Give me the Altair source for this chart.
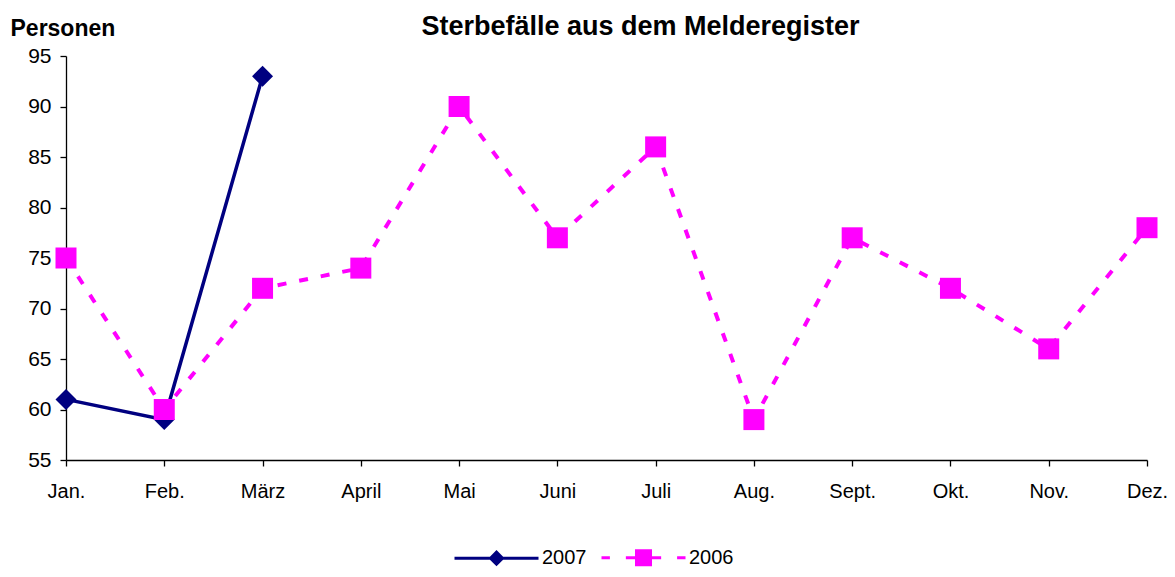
import altair as alt
import pandas as pd

months = ["Jan.", "Feb.", "März", "April", "Mai", "Juni", "Juli", "Aug.", "Sept.", "Okt.", "Nov.", "Dez."]
values_2006 = [75, 60, 72, 74, 90, 77, 86, 59, 77, 72, 66, 78]
months_2007 = ["Jan.", "Feb.", "März"]
values_2007 = [61, 59, 93]
series = ["2007", "2006"]
colors = ["#000080", "#FF00FF"]

df06 = pd.DataFrame({"Monat": months, "Personen": values_2006, "Jahr": "2006"})
df07 = pd.DataFrame({"Monat": months_2007, "Personen": values_2007, "Jahr": "2007"})
dfleg = pd.DataFrame({"Jahr": series})

FONT = "Liberation Sans"

x_enc = alt.X(
    "Monat:N",
    sort=months,
    scale=alt.Scale(type="point", domain=months, padding=0),
    axis=alt.Axis(
        title=None, labelAngle=0, tickSize=6, labelPadding=15, labelFontSize=20,
        labelFont=FONT, labelColor="#000", domainColor="#000", tickColor="#000",
        grid=False, labelBaseline="top",
    ),
)
y_enc = alt.Y(
    "Personen:Q",
    scale=alt.Scale(domain=[55, 95], nice=False, zero=False),
    axis=alt.Axis(
        values=list(range(55, 96, 5)), tickSize=6, labelPadding=9, labelFontSize=21,
        labelFont=FONT, labelColor="#000", domainColor="#000", tickColor="#000",
        grid=False, title="Personen", titleAngle=0, titleAlign="left",
        titleBaseline="alphabetic", titleX=-56, titleY=-21, titleFontSize=23,
        titleFont=FONT, titleFontWeight="bold", titleColor="#000",
    ),
)

line07 = alt.Chart(df07).mark_line(color=colors[0], strokeWidth=3.5).encode(x=x_enc, y=y_enc)
pts07 = alt.Chart(df07).mark_point(shape="diamond", filled=True, color=colors[0], size=440, opacity=1).encode(x=x_enc, y=y_enc)
line06 = alt.Chart(df06).mark_line(color=colors[1], strokeWidth=4, strokeDash=[9, 13]).encode(x=x_enc, y=y_enc)
pts06 = alt.Chart(df06).mark_point(shape="square", filled=True, color=colors[1], size=441, opacity=1).encode(x=x_enc, y=y_enc)

# legend symbols: line segment + marker (custom paths)
path07 = "M-1,0H1M-0.143,0L0,-0.143L0.143,0L0,0.143Z"
path06 = ("M-1,0H-0.8M-0.42,0H-0.17M0.17,0H0.42M0.8,0H1"
          "M-0.167,-0.167H0.167V0.167H-0.167Z")

leg = alt.Legend(
    title=None, orient="none", direction="horizontal", legendX=387, legendY=458,
    labelFontSize=20, labelFont=FONT, labelColor="#000", labelOffset=2,
    columnPadding=8, symbolSize=7056, symbolStrokeWidth=3, padding=0,
)
legend_layer = alt.Chart(dfleg).mark_point(filled=True, strokeWidth=3, opacity=1).encode(
    shape=alt.Shape("Jahr:N", scale=alt.Scale(domain=series, range=[path07, path06]), legend=leg),
    fill=alt.Fill("Jahr:N", scale=alt.Scale(domain=series, range=colors), legend=leg),
    stroke=alt.Stroke("Jahr:N", scale=alt.Scale(domain=series, range=colors), legend=leg),
    size=alt.value(0),
)

chart = alt.layer(line07, pts07, line06, pts06, legend_layer).properties(
    width=1081,
    height=404,
    autosize=alt.AutoSizeParams(type="none"),
    padding={"left": 58, "top": 48, "right": 20, "bottom": 109},
    title=alt.TitleParams(
        "Sterbefälle aus dem Melderegister", anchor="middle", dx=34, dy=28, fontSize=27,
        font=FONT, fontWeight="bold", color="#000", frame="group",
    ),
).configure_view(stroke=None).configure_axis(domainWidth=1.3, tickWidth=1.3)

chart.save("out.html", embed_options={"renderer": "svg", "actions": False})
